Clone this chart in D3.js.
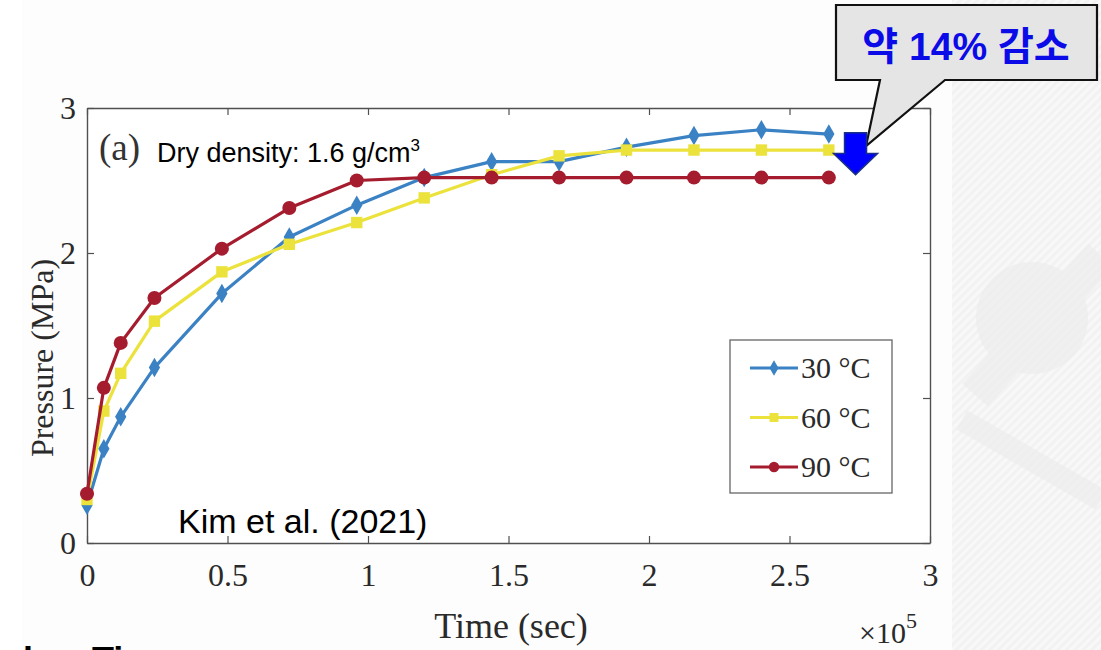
<!DOCTYPE html>
<html>
<head>
<meta charset="utf-8">
<script src="https://cdn.jsdelivr.net/npm/d3@7/dist/d3.min.js"></script>
<style>
  html, body { margin: 0; padding: 0; background: #ffffff; }
  svg { display: block; }
</style>
</head>
<body>
<svg id="chart" width="1101" height="650"></svg>
<script>
// Swelling pressure vs. time at three temperatures (time in units of 10^5 s)
const times = [0, 0.06, 0.12, 0.24, 0.48, 0.72, 0.96, 1.2, 1.44, 1.68, 1.92, 2.16, 2.4, 2.64];
const pressure30 = [0.26, 0.65, 0.87, 1.21, 1.72, 2.11, 2.33, 2.52, 2.63, 2.63, 2.73, 2.81, 2.85, 2.82];
const pressure60 = [0.30, 0.91, 1.17, 1.53, 1.87, 2.06, 2.21, 2.38, 2.54, 2.67, 2.71, 2.71, 2.71, 2.71];
const pressure90 = [0.34, 1.07, 1.38, 1.69, 2.03, 2.31, 2.50, 2.52, 2.52, 2.52, 2.52, 2.52, 2.52, 2.52];
const seriesNames = ["30 °C", "60 °C", "90 °C"];
const xTicks = [0, 0.5, 1, 1.5, 2, 2.5, 3];
const yTicks = [0, 1, 2, 3];

const svg = d3.select("#chart");
const serif = "'Liberation Serif','Times New Roman',serif";
const sans = "'Liberation Sans',Arial,'Noto Sans CJK KR',sans-serif";

// ---- page backdrop -------------------------------------------------------
const defs = svg.append("defs");
const pat = defs.append("pattern")
  .attr("id", "stripes").attr("patternUnits", "userSpaceOnUse")
  .attr("width", 6).attr("height", 6)
  .attr("patternTransform", "rotate(45)");
pat.append("rect").attr("width", 6).attr("height", 6).attr("fill", "#f8f8f8");
pat.append("rect").attr("width", 3).attr("height", 6).attr("fill", "#f2f2f2");

svg.append("rect").attr("x", 0).attr("y", 0).attr("width", 1101).attr("height", 650).attr("fill", "#ffffff");
svg.append("rect").attr("x", 22).attr("y", 0).attr("width", 930).attr("height", 650).attr("fill", "#fdfdfd");
svg.append("rect").attr("x", 952).attr("y", 0).attr("width", 149).attr("height", 650).attr("fill", "url(#stripes)");
const wm = svg.append("g").attr("fill", "none").attr("stroke", "#ededed").attr("opacity", 0.7);
wm.append("circle").attr("cx", 1032).attr("cy", 318).attr("r", 56).attr("fill", "#ededed").attr("stroke", "none");
wm.append("line").attr("x1", 975).attr("y1", 395).attr("x2", 1101).attr("y2", 255).attr("stroke-width", 34);
wm.append("line").attr("x1", 962).attr("y1", 420).attr("x2", 1101).attr("y2", 500).attr("stroke-width", 22);

// ---- scales ---------------------------------------------------------------
const x = d3.scaleLinear().domain([0, 3]).range([87, 930]);
const y = d3.scaleLinear().domain([0, 3]).range([543, 108]);

const plot = svg.append("g");
plot.append("rect")
  .attr("x", x(0)).attr("y", y(3))
  .attr("width", x(3) - x(0)).attr("height", y(0) - y(3))
  .attr("fill", "#ffffff");

// ---- axes (boxed, ticks pointing inward) ----------------------------------
function styleAxis(g) {
  g.selectAll(".domain").attr("stroke", "#505050").attr("stroke-width", 1.4);
  g.selectAll(".tick line").attr("stroke", "#505050").attr("stroke-width", 1.2);
  g.selectAll(".tick text")
    .attr("fill", "#2a2a2a").attr("font-family", serif).attr("font-size", 32);
}
const fmt = d3.format("~g");
plot.append("g").attr("transform", `translate(0,${y(0)})`)
  .call(d3.axisBottom(x).tickValues(xTicks).tickSizeInner(-7).tickSizeOuter(0).tickPadding(20).tickFormat(fmt))
  .call(styleAxis);
plot.append("g").attr("transform", `translate(0,${y(3)})`)
  .call(d3.axisTop(x).tickValues(xTicks).tickSizeInner(-7).tickSizeOuter(0).tickFormat(""))
  .call(styleAxis);
plot.append("g").attr("transform", `translate(${x(0)},0)`)
  .call(d3.axisLeft(y).tickValues(yTicks).tickSizeInner(-7).tickSizeOuter(0).tickPadding(11).tickFormat(fmt))
  .call(styleAxis);
plot.append("g").attr("transform", `translate(${x(3)},0)`)
  .call(d3.axisRight(y).tickValues(yTicks).tickSizeInner(-7).tickSizeOuter(0).tickFormat(""))
  .call(styleAxis);

// axis titles
svg.append("text")
  .attr("x", 511).attr("y", 638).attr("text-anchor", "middle")
  .attr("font-family", serif).attr("font-size", 36).attr("fill", "#2a2a2a")
  .text("Time (sec)");
svg.append("text")
  .attr("transform", "translate(53,358) rotate(-90)").attr("text-anchor", "middle")
  .attr("font-family", serif).attr("font-size", 32).attr("fill", "#2a2a2a")
  .text("Pressure (MPa)");
const mult = svg.append("text")
  .attr("x", 859).attr("y", 643)
  .attr("font-family", serif).attr("font-size", 30).attr("fill", "#2a2a2a");
mult.append("tspan").text("×10");
mult.append("tspan").attr("font-size", 22).attr("dy", -15).text("5");

// ---- series ----------------------------------------------------------------
const series = [
  { name: seriesNames[0], values: pressure30, color: "#3b82c4", symbol: d3.symbolDiamond, size: 110, lsize: 70 },
  { name: seriesNames[1], values: pressure60, color: "#ece23c", symbol: d3.symbolSquare, size: 130, lsize: 80 },
  { name: seriesNames[2], values: pressure90, color: "#a51c2e", symbol: d3.symbolCircle, size: 155, lsize: 85 }
];

const line = d3.line().x(d => x(d[0])).y(d => y(d[1]));

series.forEach(s => {
  const pts = times.map((t, i) => [t, s.values[i]]);
  const g = plot.append("g");
  g.append("path").datum(pts)
    .attr("d", line).attr("fill", "none")
    .attr("stroke", s.color).attr("stroke-width", 3.2).attr("stroke-linejoin", "round");
  g.selectAll("path.mk").data(pts).join("path")
    .attr("class", "mk")
    .attr("transform", d => `translate(${x(d[0])},${y(d[1])})`)
    .attr("d", d3.symbol().type(s.symbol).size(s.size))
    .attr("fill", s.color);
});

// ---- legend ----------------------------------------------------------------
const leg = svg.append("g");
leg.append("rect").attr("x", 730).attr("y", 340).attr("width", 162).attr("height", 153)
  .attr("fill", "#ffffff").attr("stroke", "#666").attr("stroke-width", 1.3);
series.forEach((s, i) => {
  const cy = 368 + i * 49.5;
  leg.append("line").attr("x1", 750).attr("x2", 798).attr("y1", cy).attr("y2", cy)
    .attr("stroke", s.color).attr("stroke-width", 3);
  leg.append("path").attr("transform", `translate(774,${cy})`)
    .attr("d", d3.symbol().type(s.symbol).size(s.lsize)).attr("fill", s.color);
  leg.append("text").attr("x", 801).attr("y", cy + 10)
    .attr("font-family", serif).attr("font-size", 30).attr("fill", "#2a2a2a")
    .text(s.name);
});

// ---- in-plot notes ----------------------------------------------------------
svg.append("text").attr("x", 99).attr("y", 160)
  .attr("font-family", serif).attr("font-size", 37).attr("fill", "#333").text("(a)");
const dd = svg.append("text").attr("x", 157).attr("y", 162)
  .attr("font-family", sans).attr("font-size", 27).attr("fill", "#000");
dd.append("tspan").text("Dry density: 1.6 g/cm");
dd.append("tspan").attr("font-size", 17).attr("dy", -11).text("3");
svg.append("text").attr("x", 178).attr("y", 533)
  .attr("font-family", sans).attr("font-size", 34).attr("fill", "#000")
  .text("Kim et al. (2021)");

// ---- callout: decrease from the 30 °C peak to the 90 °C plateau ----------
const peakP = d3.max(pressure30);
const lowP = pressure90[pressure90.length - 1];
const arrowX = x(2.735), arrowTop = y(peakP) + 3, arrowTip = y(lowP) - 3;
const headY = arrowTip - 21;
const callout = svg.append("g");
callout.append("path")
  .attr("d", `M836,5 H1097 V80 H945 L866,146 L880,80 H836 Z`)
  .attr("fill", "#e5e5e5").attr("stroke", "#111").attr("stroke-width", 2.2)
  .attr("stroke-linejoin", "miter");
callout.append("path")
  .attr("d", `M${arrowX - 11},${arrowTop} H${arrowX + 11} V${headY} H${arrowX + 22} L${arrowX},${arrowTip} L${arrowX - 22},${headY} H${arrowX - 11} Z`)
  .attr("fill", "#0000ff").attr("stroke", "#1b2f86").attr("stroke-width", 1.5);
callout.append("text").attr("x", 966).attr("y", 60).attr("text-anchor", "middle")
  .attr("font-family", sans).attr("font-weight", "bold").attr("font-size", 39)
  .attr("fill", "#0b0be8").text("약 14% 감소");

// text running off the bottom edge
svg.append("text").attr("x", 23).attr("y", 673)
  .attr("font-family", sans).attr("font-weight", "bold").attr("font-size", 36).attr("fill", "#000")
  .text("l");
svg.append("text").attr("x", 92).attr("y", 673)
  .attr("font-family", sans).attr("font-weight", "bold").attr("font-size", 36).attr("fill", "#000")
  .text("Ti");
</script>
</body>
</html>
